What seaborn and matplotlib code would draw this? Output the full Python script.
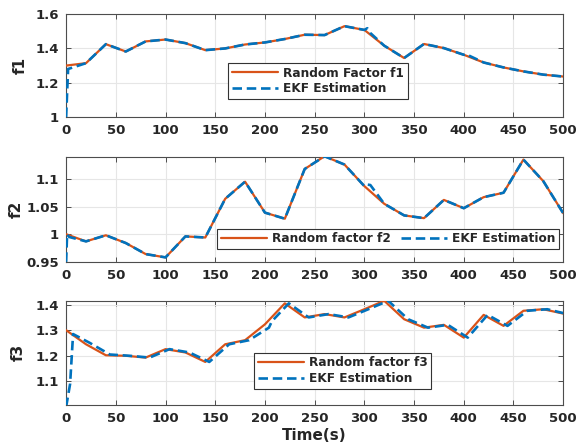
import matplotlib
matplotlib.use("Agg")
import matplotlib.pyplot as plt
import seaborn as sns
import pandas as pd

# Sampling instants of the piecewise random factors (s)
t_knots = [0, 20, 40, 60, 80, 100, 120, 140, 160, 180, 200, 220, 240,
           260, 280, 300, 320, 340, 360, 380, 400, 420, 440, 460, 480, 500]

f1_true = [1.30, 1.314, 1.425, 1.382, 1.441, 1.452, 1.431, 1.390, 1.400,
           1.423, 1.435, 1.455, 1.480, 1.478, 1.530, 1.508, 1.416, 1.344,
           1.426, 1.402, 1.363, 1.318, 1.289, 1.266, 1.247, 1.236]
f2_true = [1.000, 0.987, 0.998, 0.984, 0.964, 0.958, 0.996, 0.994, 1.064,
           1.095, 1.039, 1.028, 1.118, 1.141, 1.126, 1.087, 1.055, 1.034,
           1.029, 1.062, 1.047, 1.067, 1.075, 1.135, 1.096, 1.038]
f3_true = [1.300, 1.245, 1.202, 1.200, 1.193, 1.226, 1.213, 1.176, 1.245,
           1.261, 1.323, 1.405, 1.350, 1.363, 1.350, 1.382, 1.415, 1.343,
           1.310, 1.321, 1.271, 1.360, 1.317, 1.376, 1.382, 1.365]

# EKF estimates
t_ekf1 = [0, 2, 20, 40, 60, 80, 100, 120, 140, 160, 180, 200, 220, 240, 260,
          280, 300, 303, 306, 320, 340, 360, 380, 400, 403, 406, 420, 440,
          460, 480, 500]
f1_ekf = [1.00, 1.28, 1.314, 1.425, 1.382, 1.441, 1.452, 1.431, 1.390, 1.400,
          1.423, 1.435, 1.455, 1.480, 1.478, 1.530, 1.508, 1.518, 1.490, 1.416,
          1.344, 1.426, 1.402, 1.363, 1.368, 1.356, 1.318, 1.289, 1.266, 1.247,
          1.236]

t_ekf2 = [0, 1, 3, 20, 40, 60, 80, 100, 120, 140, 160, 180, 200, 220, 240,
          260, 280, 300, 302, 306, 320, 340, 360, 380, 400, 420, 440, 460,
          480, 500]
f2_ekf = [0.950, 1.000, 0.995, 0.987, 0.998, 0.984, 0.964, 0.958, 0.996,
          0.994, 1.064, 1.095, 1.039, 1.028, 1.118, 1.141, 1.126, 1.087,
          1.090, 1.089, 1.055, 1.034, 1.029, 1.062, 1.047, 1.067, 1.075,
          1.135, 1.096, 1.038]

t_ekf3 = [0, 4, 7, 24, 44, 64, 84, 104, 124, 144, 164, 184, 204, 207, 224,
          244, 264, 284, 304, 324, 344, 364, 384, 404, 424, 444, 464, 484, 500]
f3_ekf = [1.00, 1.09, 1.285, 1.250, 1.205, 1.200, 1.193, 1.226, 1.213, 1.176,
          1.245, 1.261, 1.310, 1.335, 1.405, 1.350, 1.363, 1.350, 1.382, 1.415,
          1.343, 1.310, 1.321, 1.271, 1.360, 1.317, 1.376, 1.382, 1.367]

x_ticks = [0, 50, 100, 150, 200, 250, 300, 350, 400, 450, 500]

ORANGE = "#D95319"
BLUE = "#0072BD"

sns.set_theme(style="whitegrid")
plt.rcParams["font.family"] = ["DejaVu Sans"]
plt.rcParams["font.weight"] = "bold"

fig = plt.figure(figsize=(5.8, 4.43), dpi=100)

panels = [
    dict(rect=[0.114, 0.736, 0.857, 0.232], t_true=t_knots, y_true=f1_true,
         t_est=t_ekf1, y_est=f1_ekf, ylim=(1.0, 1.6),
         yticks=[1.0, 1.2, 1.4, 1.6], ylabels=["1", "1.2", "1.4", "1.6"],
         ylabel="f1", ylab_x=-0.078, true_label="Random Factor f1",
         leg=dict(loc="upper left", bbox_to_anchor=(0.326, 0.524), ncol=1)),
    dict(rect=[0.114, 0.409, 0.857, 0.237], t_true=t_knots, y_true=f2_true,
         t_est=t_ekf2, y_est=f2_ekf, ylim=(0.95, 1.14),
         yticks=[0.95, 1.0, 1.05, 1.1], ylabels=["0.95", "1", "1.05", "1.1"],
         ylabel="f2", ylab_x=-0.086, true_label="Random factor f2",
         leg=dict(loc="upper left", bbox_to_anchor=(0.304, 0.314), ncol=2)),
    dict(rect=[0.114, 0.086, 0.857, 0.235], t_true=t_knots, y_true=f3_true,
         t_est=t_ekf3, y_est=f3_ekf, ylim=(1.008, 1.415),
         yticks=[1.1, 1.2, 1.3, 1.4], ylabels=["1.1", "1.2", "1.3", "1.4"],
         ylabel="f3", ylab_x=-0.082, true_label="Random factor f3",
         leg=dict(loc="upper left", bbox_to_anchor=(0.378, 0.50), ncol=1)),
]

for i, p in enumerate(panels):
    ax = fig.add_axes(p["rect"])
    df_true = pd.DataFrame({"t": p["t_true"], "v": p["y_true"]})
    df_est = pd.DataFrame({"t": p["t_est"], "v": p["y_est"]})
    sns.lineplot(data=df_true, x="t", y="v", ax=ax, color=ORANGE, lw=1.6,
                 label=p["true_label"], zorder=3)
    sns.lineplot(data=df_est, x="t", y="v", ax=ax, color=BLUE, lw=1.9,
                 ls=(0, (3.6, 1.8)), label="EKF Estimation", zorder=4)
    ax.set_xlim(0, 500)
    ax.set_ylim(*p["ylim"])
    ax.set_xticks(x_ticks)
    ax.set_xticklabels([str(v) for v in x_ticks])
    ax.set_yticks(p["yticks"])
    ax.set_yticklabels(p["ylabels"])
    ax.set_facecolor("white")
    ax.grid(True, color="#e6e6e6", lw=0.8)
    for s in ax.spines.values():
        s.set_color("#4d4d4d")
        s.set_linewidth(0.8)
    ax.tick_params(direction="in", length=3.5, width=0.7, color="#4d4d4d",
                   labelsize=9.5, labelcolor="#262626", pad=5,
                   top=True, right=True, bottom=True, left=True)
    for lab in ax.get_xticklabels() + ax.get_yticklabels():
        lab.set_fontweight("bold")
    ax.set_ylabel(p["ylabel"], fontsize=11, fontweight="bold", color="#262626")
    ax.yaxis.set_label_coords(p["ylab_x"], 0.5)
    if i == 2:
        ax.set_xlabel("Time(s)", fontsize=11, fontweight="bold",
                      color="#262626", labelpad=2)
    else:
        ax.set_xlabel("")
    leg = ax.legend(handlelength=3.8, handletextpad=0.45, borderpad=0.3,
                    labelspacing=0.2, columnspacing=0.8, fancybox=False,
                    framealpha=1, edgecolor="#333333", borderaxespad=0,
                    prop=dict(size=8.7, weight="bold"), **p["leg"])
    leg.get_frame().set_linewidth(0.8)
    leg.set_zorder(10)

fig.savefig("out.png", dpi=100)
